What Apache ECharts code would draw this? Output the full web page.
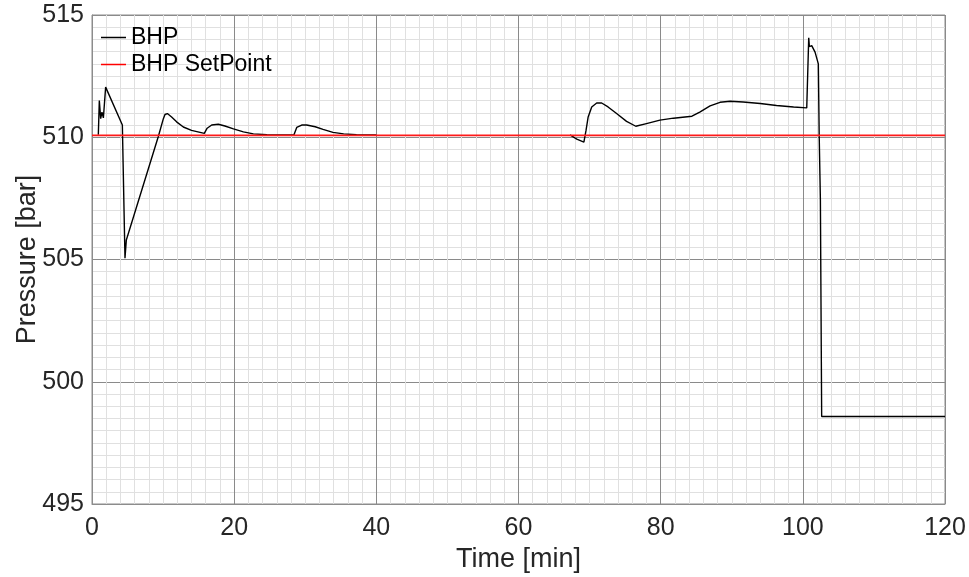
<!DOCTYPE html>
<html>
<head>
<meta charset="utf-8">
<script src="https://cdn.jsdelivr.net/npm/echarts@6/dist/echarts.min.js"></script>
<style>
  html, body { margin: 0; padding: 0; background: #fff; }
  #chart { width: 969px; height: 577px; }
</style>
</head>
<body>
<div id="chart"></div>
<script>
// Bottom-hole pressure over time [min, bar]; a null value breaks the trace
const bhpTime = [
  0.89, 1.03, 1.22, 1.40, 1.60, 1.92, 4.27, 4.40, 4.64, 4.83, 5.02,
  9.33, 10.04, 10.27, 10.6, 11.2, 11.9, 12.85, 14.0, 15.2, 15.8,
  16.2, 16.84, 17.77, 18.7, 19.9, 21.3, 22.7, 24.6, 28.4,
  28.8, 29.5, 30.2, 31.4, 32.5, 33.9, 35.4, 37.2, 40.0,
  53.0,
  67.25, 68.2, 69.2, 69.5, 69.8, 70.3, 71.0, 71.7, 72.6, 73.8, 75.2, 76.5,
  78.0, 79.9, 81.8, 84.4, 85.5, 86.95, 88.35, 89.76, 91.6, 94.0, 96.3, 98.7, 100.55,
  100.83, 100.92, 101.25, 101.72, 102.18, 102.3, 102.47, 102.65, 120.0
];
const bhpValue = [
  510.1, 511.5, 510.76, 511.03, 510.79, 512.05, 510.5, 510.42, 505.05, 505.8, 505.87,
  510.03, 510.76, 510.93, 510.97, 510.83, 510.63, 510.42, 510.28, 510.2, 510.16,
  510.37, 510.5, 510.53, 510.46, 510.34, 510.22, 510.14, 510.1, 510.09,
  510.4, 510.5, 510.5, 510.43, 510.32, 510.2, 510.14, 510.1, 510.09,
  null,
  510.1, 509.92, 509.8, 510.28, 510.83, 511.24, 511.4, 511.4, 511.24, 510.97, 510.65, 510.45,
  510.56, 510.7, 510.78, 510.86, 511.03, 511.28, 511.43, 511.47, 511.44, 511.38, 511.3, 511.24, 511.2,
  514.07, 513.71, 513.75, 513.48, 513.0, 510.1, 507.43, 498.58, 498.58
];
const setPointTime = [0, 120];
const setPointValue = [510.08, 510.08];

const xTicks = [0, 20, 40, 60, 80, 100, 120];
const yTicks = [495, 500, 505, 510, 515];

const pair = (xs, ys) => xs.map((x, i) => [x, ys[i]]);

const textColor = '#262626';
const font = 'Liberation Sans, Arial, Helvetica, sans-serif';

const chart = echarts.init(document.getElementById('chart'), null, { renderer: 'canvas' });
chart.setOption({
  animation: false,
  backgroundColor: '#ffffff',
  textStyle: { fontFamily: font },
  grid: {
    left: 92, right: 24, top: 15, bottom: 73,
    containLabel: false, outerBoundsMode: 'none',
    show: true, borderColor: '#8c8c8c', borderWidth: 1
  },
  legend: {
    orient: 'vertical',
    left: 101, top: 26, padding: 0,
    icon: 'rect',
    itemWidth: 25, itemHeight: 1.5, itemGap: 4,
    textStyle: { fontSize: 23, color: '#000', fontFamily: font, lineHeight: 23 },
    data: ['BHP', 'BHP SetPoint']
  },
  xAxis: {
    type: 'value',
    min: xTicks[0], max: xTicks[xTicks.length - 1], interval: 20,
    name: 'Time [min]', nameLocation: 'middle', nameGap: 42, nameMoveOverlap: false,
    nameTextStyle: { fontSize: 27, color: textColor, fontFamily: font },
    axisLine: { show: true, lineStyle: { color: '#8c8c8c' } },
    axisTick: { show: false },
    axisLabel: { fontSize: 25, color: textColor, margin: 12, fontFamily: font,
      formatter: v => xTicks.includes(v) ? String(v) : '' },
    splitLine: { show: true, lineStyle: { color: '#8a8a8a', width: 1 } },
    minorTick: { show: false, splitNumber: 10 },
    minorSplitLine: { show: true, lineStyle: { color: '#e0e0e0', width: 1 } }
  },
  yAxis: {
    type: 'value',
    min: yTicks[0], max: yTicks[yTicks.length - 1], interval: 5,
    name: 'Pressure [bar]', nameLocation: 'middle', nameGap: 51, nameRotate: 90,
    nameMoveOverlap: false,
    nameTextStyle: { fontSize: 27, color: textColor, fontFamily: font },
    axisLine: { show: true, lineStyle: { color: '#8c8c8c' } },
    axisTick: { show: false },
    axisLabel: { fontSize: 25, color: textColor, margin: 8, fontFamily: font,
      formatter: v => yTicks.includes(v) ? String(v) : '' },
    splitLine: { show: true, lineStyle: { color: '#8a8a8a', width: 1 } },
    minorTick: { show: false, splitNumber: 10 },
    minorSplitLine: { show: true, lineStyle: { color: '#e0e0e0', width: 1 } }
  },
  series: [
    {
      name: 'BHP', type: 'line', symbol: 'none', connectNulls: false,
      lineStyle: { color: '#000000', width: 1.4 },
      itemStyle: { color: '#000000' },
      data: pair(bhpTime, bhpValue), z: 3
    },
    {
      name: 'BHP SetPoint', type: 'line', symbol: 'none',
      lineStyle: { color: '#ff1a1a', width: 1.8 },
      itemStyle: { color: '#ff0000' },
      data: pair(setPointTime, setPointValue), z: 4
    }
  ]
});
</script>
</body>
</html>
